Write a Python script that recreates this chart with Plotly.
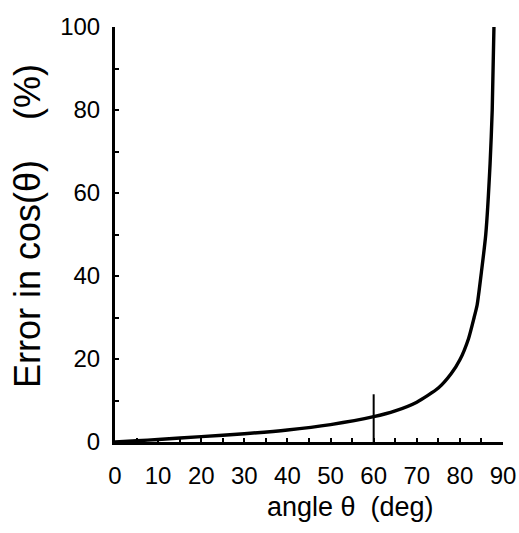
import plotly.graph_objects as go

angle_deg = [0, 5, 10, 20, 30, 40, 50, 60, 65, 70, 75, 78, 80, 82, 83.3, 84, 85, 86, 87, 87.5, 87.9]
error_pct = [0, 0.3, 0.6, 1.3, 2.0, 2.9, 4.2, 6.1, 7.5, 9.6, 13, 16.5, 19.8, 24.9, 30, 33, 41, 50, 67, 80, 100]
marker_x = [60, 60]
marker_y = [0, 11.5]
x_ticks = [0, 10, 20, 30, 40, 50, 60, 70, 80, 90]
y_ticks = [0, 20, 40, 60, 80, 100]
x_title = "angle \u03b8  (deg)"
y_title = "Error in cos(\u03b8)    (%)"

W, H = 519, 533
L, R, T, B = 115, 16, 27, 91

fig = go.Figure()
fig.add_trace(go.Scatter(x=angle_deg, y=error_pct, mode="lines",
                         line=dict(color="black", width=3.4, shape="spline", smoothing=0.6),
                         showlegend=False))
fig.add_trace(go.Scatter(x=marker_x, y=marker_y, mode="lines",
                         line=dict(color="black", width=2), showlegend=False))

font = dict(family="Liberation Sans, Arial, sans-serif", color="black")
pw = W - L - R
ph = H - T - B
fig.update_layout(
    width=W, height=H,
    margin=dict(l=L, r=R, t=T, b=B),
    paper_bgcolor="white", plot_bgcolor="white",
    font=font,
    xaxis=dict(range=[0, 90], tickvals=x_ticks, ticktext=[str(v) for v in x_ticks],
               showgrid=False, zeroline=False, showline=True, linecolor="black", linewidth=3,
               ticks="inside", ticklen=4, tickwidth=1.5, tickcolor="black", automargin=False,
               minor=dict(dtick=5, ticks="inside", ticklen=4, tickwidth=1.5, tickcolor="black", showgrid=False),
               tickfont=dict(size=24), ticklabelstandoff=10),
    yaxis=dict(range=[0, 100], tickvals=y_ticks, ticktext=[str(v) for v in y_ticks],
               showgrid=False, zeroline=False, showline=True, linecolor="black", linewidth=3,
               ticks="inside", ticklen=4, tickwidth=1.5, tickcolor="black", automargin=False,
               minor=dict(dtick=10, ticks="inside", ticklen=4, tickwidth=1.5, tickcolor="black", showgrid=False),
               tickfont=dict(size=24), ticklabelstandoff=7),
    annotations=[
        dict(text=x_title, xref="paper", yref="paper",
             x=(350 - L) / pw, y=-(507 - (H - B)) / ph,
             xanchor="center", yanchor="middle", showarrow=False, font=dict(size=27)),
        dict(text=y_title, xref="paper", yref="paper",
             x=-(L - 27) / pw, y=(H - B - 226) / ph, textangle=-90,
             xanchor="center", yanchor="middle", showarrow=False, font=dict(size=36)),
    ],
)
fig.write_html("out.html", config={"displayModeBar": False},
               post_script="document.body.style.margin='0';document.body.style.overflow='hidden';"
                           "document.documentElement.style.overflow='hidden';")
